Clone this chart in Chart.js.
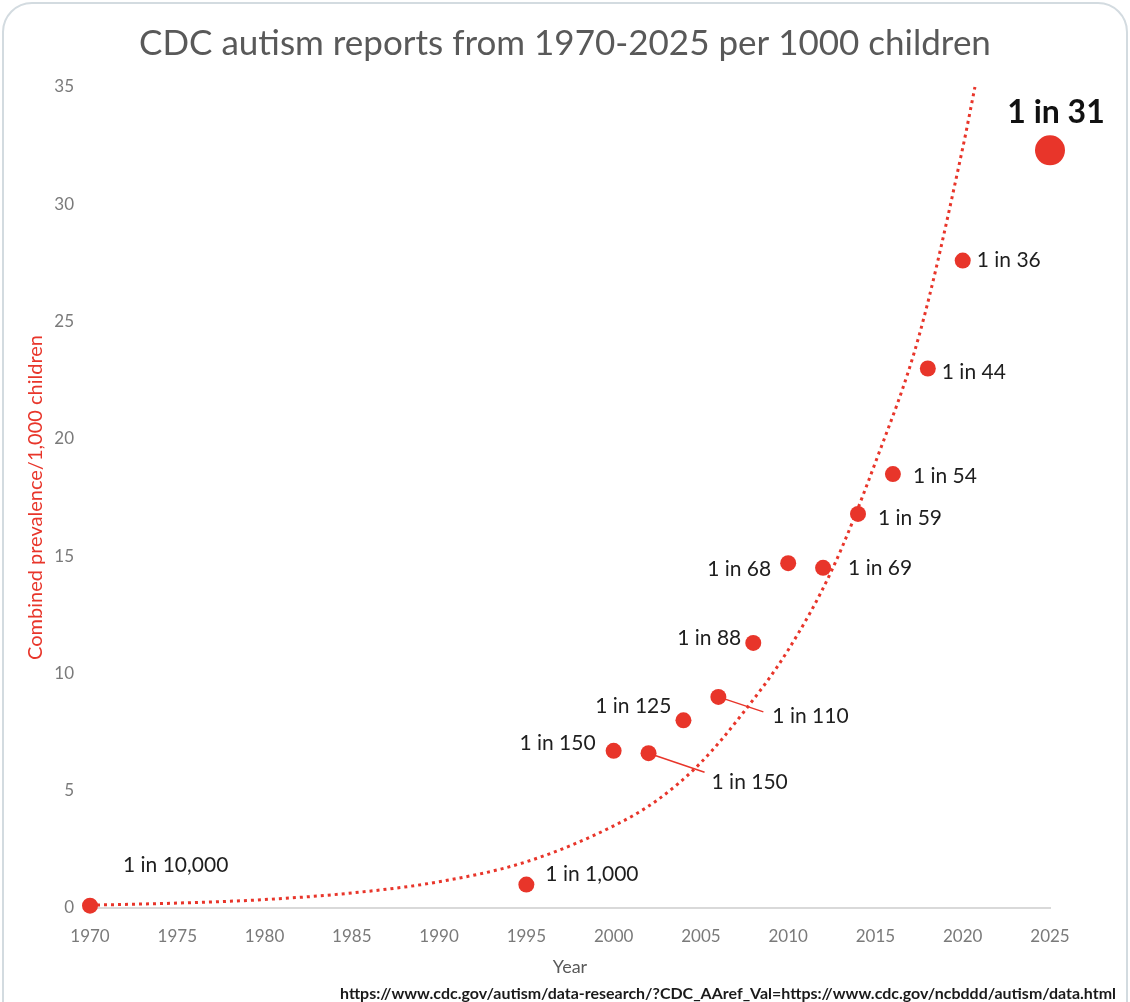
<!DOCTYPE html>
<html>
<head>
<meta charset="utf-8">
<script src="https://cdn.jsdelivr.net/npm/chart.js@4/dist/chart.umd.min.js"></script>
<style>
  html, body { margin: 0; padding: 0; background: #ffffff; }
  #frame { position: absolute; left: 2px; top: 2px; width: 1122px; height: 1100px;
           border: 2px solid #d3dbe0; border-radius: 30px; background: #fff; }
  #c { position: absolute; left: 0; top: 0; }
</style>
</head>
<body>
<div id="frame"></div>
<canvas id="c" width="1130" height="1002"></canvas>
<script>
// ---- Data ----
const years = [1970, 1995, 2000, 2002, 2004, 2006, 2008, 2010, 2012, 2014, 2016, 2018, 2020, 2025];
const prevalence = [0.1, 1.0, 6.7, 6.6, 8.0, 9.0, 11.3, 14.7, 14.5, 16.8, 18.5, 23.0, 27.6, 32.3];
const ratioLabels = ['1 in 10,000', '1 in 1,000', '1 in 150', '1 in 150', '1 in 125', '1 in 110',
  '1 in 88', '1 in 68', '1 in 69', '1 in 59', '1 in 54', '1 in 44', '1 in 36', '1 in 31'];
// Exponential trendline, values
const trendYears = [1970, 1975, 1980, 1985, 1990, 1995, 2000, 2002.5, 2005, 2007.5, 2010, 2012.5, 2015, 2017.5, 2020, 2020.7];
const trendValues = [0.12, 0.21, 0.36, 0.64, 1.12, 1.97, 3.5, 4.6, 6.2, 8.4, 11.0, 14.4, 19.0, 24.4, 32.4, 35];
const xTicks = [1970, 1975, 1980, 1985, 1990, 1995, 2000, 2005, 2010, 2015, 2020, 2025];
const yTicks = [0, 5, 10, 15, 20, 25, 30, 35];

const titleText = 'CDC autism reports from 1970-2025 per 1000 children';
const yTitle = 'Combined prevalence/1,000 children';
const xTitle = 'Year';
const sourceText = 'https://www.cdc.gov/autism/data-research/?CDC_AAref_Val=https://www.cdc.gov/ncbddd/autism/data.html';

// ---- Styles / layout (kept separate from data) ----
const RED = '#e8352a';
const GRAY = '#595959';
const TICKGRAY = '#7a7a7a';
// label placement relative to each point: [dx, dy, align, leaderDx, leaderDy]
const labelLayout = [
  [33, -40, 'left'], [19, -10, 'left'], [-18, -8, 'right'], [63, 29, 'left', 56, 19],
  [-12, -14, 'right'], [54, 19, 'left', 45, 15], [-12, -5, 'right'], [-17, 6, 'right'],
  [25, 0, 'left'], [20, 4, 'left'], [20, 2, 'left'], [14, 4, 'left'], [14, 0, 'left'],
  [6, -38, 'center']
];
const lastIdx = years.length - 1;

const labelPlugin = {
  id: 'pointLabels',
  afterDatasetsDraw(chart) {
    const ctx = chart.ctx;
    const meta = chart.getDatasetMeta(0);
    ctx.save();
    meta.data.forEach((pt, i) => {
      const [dx, dy, align, lx, ly] = labelLayout[i];
      if (lx !== undefined) {
        ctx.strokeStyle = RED;
        ctx.lineWidth = 1.5;
        ctx.beginPath();
        ctx.moveTo(pt.x, pt.y);
        ctx.lineTo(pt.x + lx, pt.y + ly);
        ctx.stroke();
      }
      const big = i === lastIdx;
      ctx.font = big ? 'bold 32px Lato' : '21px Lato';
      ctx.fillStyle = big ? '#111111' : '#1e1e1e';
      ctx.textAlign = align;
      ctx.textBaseline = 'middle';
      ctx.fillText(ratioLabels[i], pt.x + dx, pt.y + dy);
    });
    // title
    ctx.font = '35px Lato';
    ctx.fillStyle = GRAY;
    ctx.textAlign = 'center';
    ctx.fillText(titleText, 565, 44);
    // source line
    ctx.font = 'bold 16px Lato';
    ctx.fillStyle = '#1a1a1a';
    ctx.textAlign = 'right';
    ctx.fillText(sourceText, 1116, 994, 776);
    ctx.restore();
  }
};

new Chart(document.getElementById('c'), {
  type: 'scatter',
  data: {
    datasets: [
      {
        label: 'Prevalence',
        data: years.map((y, i) => ({ x: y, y: prevalence[i] })),
        backgroundColor: RED,
        borderColor: RED,
        borderWidth: 0,
        pointRadius: c => c.dataIndex === lastIdx ? 15 : 8,
        order: 0,
        clip: false
      },
      {
        type: 'line',
        label: 'Trend',
        data: trendYears.map((y, i) => ({ x: y, y: trendValues[i] })),
        borderColor: RED,
        borderWidth: 3,
        borderDash: [3, 4],
        pointRadius: 0,
        fill: false,
        cubicInterpolationMode: 'monotone',
        order: 1,
        clip: false
      }
    ]
  },
  options: {
    responsive: false,
    animation: false,
    layout: { padding: { left: 0, right: 80, top: 87, bottom: 0 } },
    plugins: {
      legend: { display: false },
      tooltip: { enabled: false },
      title: { display: false }
    },
    scales: {
      x: {
        type: 'linear', min: 1970, max: 2025,
        afterBuildTicks: s => { s.ticks = xTicks.map(v => ({ value: v })); },
        afterFit: s => { s.height = 94; },
        ticks: { callback: v => String(v), color: TICKGRAY, font: { family: 'Lato', size: 17 }, padding: 18, maxRotation: 0 },
        grid: { display: false, drawTicks: false },
        border: { display: true, color: '#d9d9d9', width: 2 },
        title: { display: true, text: xTitle, color: GRAY, font: { family: 'Lato', size: 18 }, padding: { top: 0, bottom: 24 } }
      },
      y: {
        min: 0, max: 35,
        afterBuildTicks: s => { s.ticks = yTicks.map(v => ({ value: v })); },
        afterFit: s => { s.width = 90; },
        ticks: { color: TICKGRAY, font: { family: 'Lato', size: 17 }, padding: 16 },
        grid: { display: false, drawTicks: false },
        border: { display: false },
        title: { display: true, text: yTitle, color: RED, font: { family: 'Lato', size: 20 }, padding: { top: 24, bottom: 0 } }
      }
    }
  },
  plugins: [labelPlugin]
});
</script>
</body>
</html>
